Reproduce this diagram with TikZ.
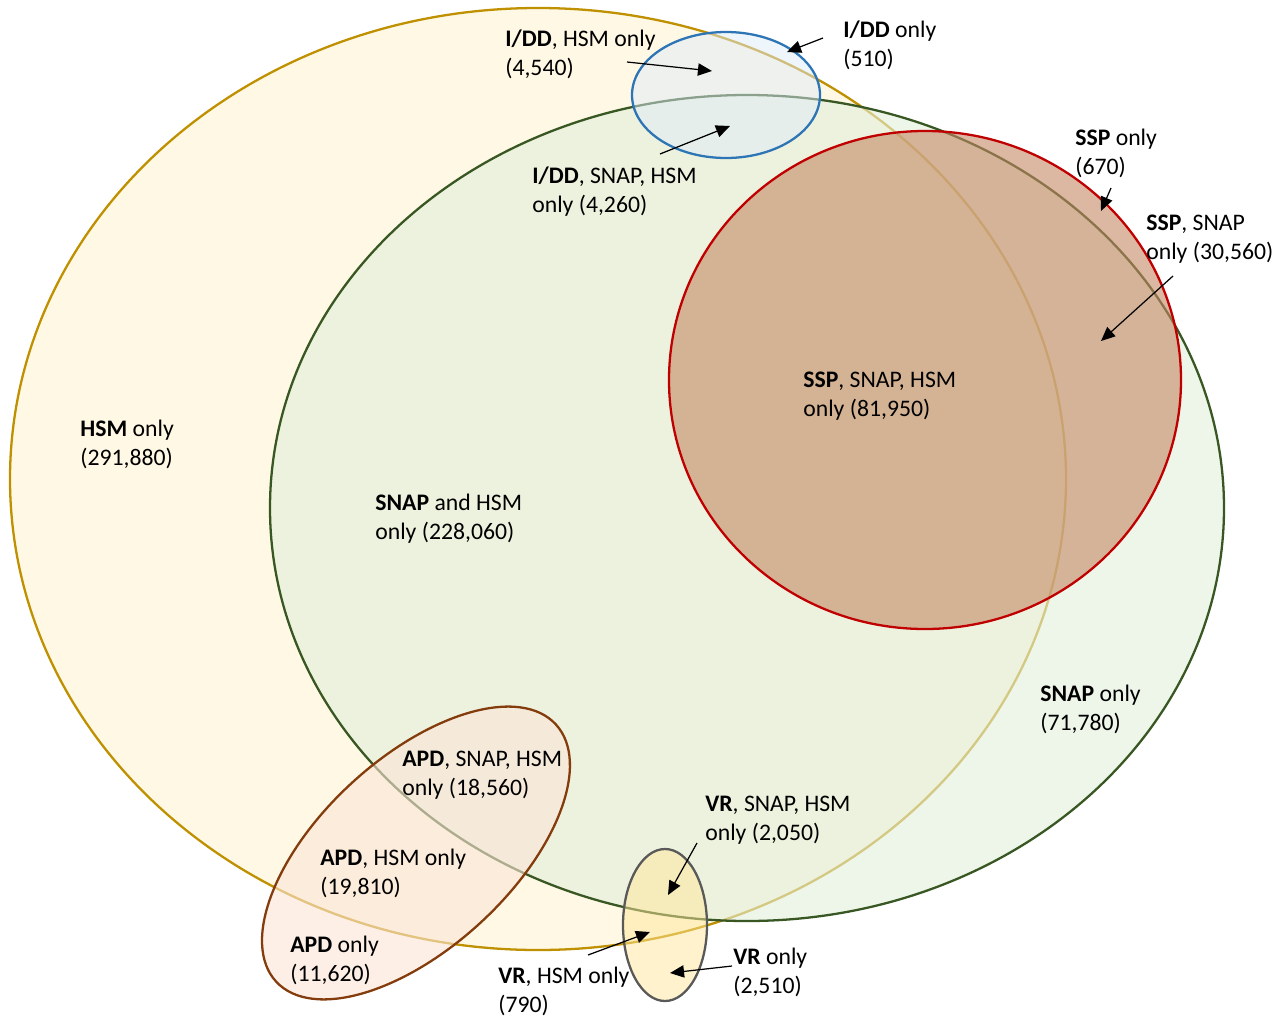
\documentclass[tikz,border=0pt]{standalone}
\usepackage{fontspec}
\setmainfont{Carlito}
\usetikzlibrary{arrows.meta}

\definecolor{hsmLine}{HTML}{BF9000}
\definecolor{hsmFill}{HTML}{FFF8E5}
\definecolor{snapLine}{HTML}{385723}
\definecolor{snapFill}{HTML}{E2EFDA}
\definecolor{sspLine}{HTML}{C00000}
\definecolor{sspFill}{RGB}{196,136,100}
\definecolor{iddLine}{HTML}{2E75B6}
\definecolor{iddFill}{HTML}{DEEBF7}
\definecolor{apdLine}{HTML}{843C0C}
\definecolor{apdFill}{HTML}{FBE5D6}
\definecolor{vrLine}{HTML}{595959}
\definecolor{vrFill}{HTML}{FFE699}

\tikzset{
    setline/.style={line width=1.3pt},
    lbl/.style={anchor=west, align=left, inner sep=0pt, font=\fontsize{13.5}{16.5}\selectfont},
    ptr/.style={-{Triangle[length=8pt, width=7pt]}, line width=0.7pt},
}

\begin{document}
\begin{tikzpicture}[x=0.02cm, y=-0.02cm]
    \useasboundingbox (0,0) rectangle (1272,1018);

    % Reference coordinates
    \coordinate (cHSM) at (538,479);
    \coordinate (cSNAP) at (747,508);
    \coordinate (cSSP) at (925,380);
    \coordinate (cIDD) at (726,95);
    \coordinate (cAPD) at (416,853);
    \coordinate (cVR) at (665,925);

    % Sets
    \draw[setline, draw=hsmLine, fill=hsmFill] (cHSM) ellipse [x radius=528, y radius=471];
    \draw[setline, draw=snapLine, fill=snapFill, fill opacity=0.6] (cSNAP) ellipse [x radius=477, y radius=413];
    \draw[setline, draw=sspLine, fill=sspFill, fill opacity=0.6] (cSSP) ellipse [x radius=256, y radius=249];
    \draw[setline, draw=iddLine, fill=iddFill, fill opacity=0.5] (cIDD) ellipse [x radius=94, y radius=63];
    \draw[setline, draw=apdLine, fill=apdFill, fill opacity=0.6, rotate around={42.6:(cAPD)}] (cAPD) ellipse [x radius=190, y radius=95];
    \draw[setline, draw=vrLine, fill=vrFill, fill opacity=0.5] (cVR) ellipse [x radius=42, y radius=76];

    % Labels
    \node[lbl] (iddHsm) at (505,54) {\textbf{I/DD}, HSM only\\(4,540)};
    \node[lbl] (iddOnly) at (843,45) {\textbf{I/DD} only\\(510)};
    \node[lbl] (iddSnapHsm) at (532,192) {\textbf{I/DD}, SNAP, HSM\\only (4,260)};
    \node[lbl] (sspOnly) at (1075,153) {\textbf{SSP} only\\(670)};
    \node[lbl] (sspSnap) at (1146,239) {\textbf{SSP}, SNAP\\only (30,560)};
    \node[lbl] (sspSnapHsm) at (803,396) {\textbf{SSP}, SNAP, HSM\\only (81,950)};
    \node[lbl] (hsmOnly) at (80,444) {\textbf{HSM} only\\(291,880)};
    \node[lbl] (snapHsm) at (375,519) {\textbf{SNAP} and HSM\\only (228,060)};
    \node[lbl] (snapOnly) at (1040,709) {\textbf{SNAP} only\\(71,780)};
    \node[lbl] (apdSnapHsm) at (402,775) {\textbf{APD}, SNAP, HSM\\only (18,560)};
    \node[lbl] (apdHsm) at (320,873) {\textbf{APD}, HSM only\\(19,810)};
    \node[lbl] (apdOnly) at (290,960) {\textbf{APD} only\\(11,620)};
    \node[lbl] (vrSnapHsm) at (705,820) {\textbf{VR}, SNAP, HSM\\only (2,050)};
    \node[lbl] (vrHsm) at (498,991) {\textbf{VR}, HSM only\\(790)};
    \node[lbl] (vrOnly) at (733,972) {\textbf{VR} only\\(2,510)};

    % Pointer ends
    \coordinate (iddHsmS) at (627,62);    \coordinate (iddHsmE) at (712,71);
    \coordinate (iddOnlyS) at (823,38);   \coordinate (iddOnlyE) at (787,52);
    \coordinate (iddSnapS) at (660,154);  \coordinate (iddSnapE) at (730,126);
    \coordinate (sspOnlyS) at (1111,188); \coordinate (sspOnlyE) at (1101,211);
    \coordinate (sspSnapS) at (1173,276); \coordinate (sspSnapE) at (1101,341);
    \coordinate (vrSnapS) at (697,843);   \coordinate (vrSnapE) at (668,895);
    \coordinate (vrHsmS) at (588,955);    \coordinate (vrHsmE) at (650,932);
    \coordinate (vrOnlyS) at (732,966);   \coordinate (vrOnlyE) at (670,973);

    % Pointers
    \draw[ptr] (iddHsmS) -- (iddHsmE);
    \draw[ptr] (iddOnlyS) -- (iddOnlyE);
    \draw[ptr] (iddSnapS) -- (iddSnapE);
    \draw[ptr] (sspOnlyS) -- (sspOnlyE);
    \draw[ptr] (sspSnapS) -- (sspSnapE);
    \draw[ptr] (vrSnapS) -- (vrSnapE);
    \draw[ptr] (vrHsmS) -- (vrHsmE);
    \draw[ptr] (vrOnlyS) -- (vrOnlyE);

\end{tikzpicture}
\end{document}
